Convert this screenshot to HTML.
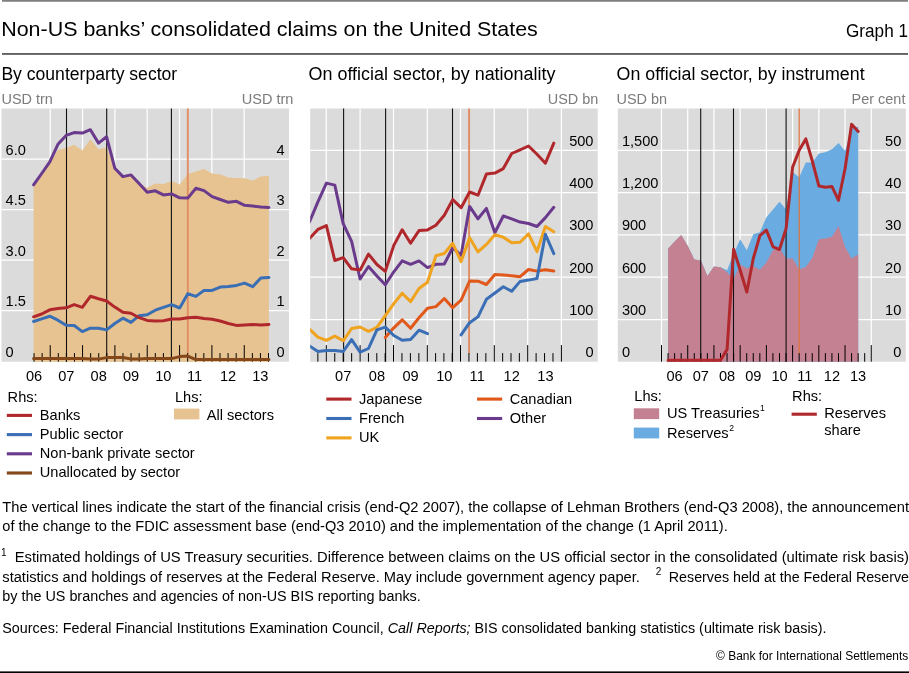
<!DOCTYPE html>
<html lang="en">
<head>
<meta charset="utf-8">
<title>Non-US banks’ consolidated claims on the United States</title>
<style>
html, body { margin: 0; padding: 0; background: #ffffff; }
body { width: 909px; height: 673px; overflow: hidden; }
svg { display: block; font-family: "Liberation Sans", Arial, sans-serif; }
</style>
</head>
<body>
<svg width="909" height="673" viewBox="0 0 909 673">
<defs><clipPath id="c2"><rect x="310.2" y="108.5" width="287.5" height="253.2"/></clipPath></defs>
<rect x="2" y="0" width="906" height="1.75" fill="#7f7f7f"/>
<rect x="2" y="53.1" width="906" height="1.7" fill="#505050"/>
<text x="1.2" y="36.0" font-size="20.4" text-anchor="start" fill="#000" textLength="536.6" lengthAdjust="spacingAndGlyphs">Non-US banks’ consolidated claims on the United States</text>
<text x="908.0" y="36.6" font-size="17.8" text-anchor="end" fill="#000" textLength="62.0" lengthAdjust="spacingAndGlyphs">Graph 1</text>
<rect x="0" y="671.4" width="909" height="1.6" fill="#000"/>
<rect x="1.5" y="108.5" width="287.5" height="253.2" fill="#dbdbdb"/>
<line x1="50.20" y1="108.50" x2="50.20" y2="361.70" stroke="#ffffff" stroke-width="1.25"/>
<line x1="82.53" y1="108.50" x2="82.53" y2="361.70" stroke="#ffffff" stroke-width="1.25"/>
<line x1="114.86" y1="108.50" x2="114.86" y2="361.70" stroke="#ffffff" stroke-width="1.25"/>
<line x1="147.19" y1="108.50" x2="147.19" y2="361.70" stroke="#ffffff" stroke-width="1.25"/>
<line x1="179.52" y1="108.50" x2="179.52" y2="361.70" stroke="#ffffff" stroke-width="1.25"/>
<line x1="211.85" y1="108.50" x2="211.85" y2="361.70" stroke="#ffffff" stroke-width="1.25"/>
<line x1="244.18" y1="108.50" x2="244.18" y2="361.70" stroke="#ffffff" stroke-width="1.25"/>
<line x1="1.50" y1="159.10" x2="289.00" y2="159.10" stroke="#ffffff" stroke-width="1.25"/>
<line x1="1.50" y1="209.60" x2="289.00" y2="209.60" stroke="#ffffff" stroke-width="1.25"/>
<line x1="1.50" y1="260.10" x2="289.00" y2="260.10" stroke="#ffffff" stroke-width="1.25"/>
<line x1="1.50" y1="310.60" x2="289.00" y2="310.60" stroke="#ffffff" stroke-width="1.25"/>
<polygon points="33.6,185.3 41.7,175.2 49.8,163.5 57.9,150.1 66.1,148.1 74.2,144.8 82.3,150.6 90.4,139.3 98.5,149.3 106.6,147.6 114.8,168.5 122.9,175.2 131.0,176.1 139.1,183.6 147.2,187.8 155.3,183.4 163.4,183.9 171.6,181.1 179.7,184.4 187.8,173.9 195.9,171.5 204.0,169.0 212.1,173.5 220.2,174.4 228.4,177.4 236.5,177.9 244.6,178.2 252.7,180.6 260.8,176.6 268.9,176.1 268.9,361.7 260.8,361.7 252.7,361.7 244.6,361.7 236.5,361.7 228.4,361.7 220.2,361.7 212.1,361.7 204.0,361.7 195.9,361.7 187.8,361.7 179.7,361.7 171.6,361.7 163.4,361.7 155.3,361.7 147.2,361.7 139.1,361.7 131.0,361.7 122.9,361.7 114.8,361.7 106.6,361.7 98.5,361.7 90.4,361.7 82.3,361.7 74.2,361.7 66.1,361.7 57.9,361.7 49.8,361.7 41.7,361.7 33.6,361.7" fill="#e6c391"/>
<line x1="66.50" y1="108.50" x2="66.50" y2="361.70" stroke="#111" stroke-width="1.1"/>
<line x1="106.70" y1="108.50" x2="106.70" y2="361.70" stroke="#111" stroke-width="1.1"/>
<line x1="171.40" y1="108.50" x2="171.40" y2="361.70" stroke="#111" stroke-width="1.1"/>
<line x1="187.80" y1="108.50" x2="187.80" y2="353.70" stroke="#e08d63" stroke-width="1.9"/>
<line x1="34.05" y1="353.10" x2="34.05" y2="361.70" stroke="#000" stroke-width="1.0"/>
<line x1="42.13" y1="353.10" x2="42.13" y2="361.70" stroke="#000" stroke-width="1.0"/>
<line x1="50.22" y1="345.10" x2="50.22" y2="361.70" stroke="#000" stroke-width="1.0"/>
<line x1="58.30" y1="353.10" x2="58.30" y2="361.70" stroke="#000" stroke-width="1.0"/>
<line x1="66.39" y1="353.10" x2="66.39" y2="361.70" stroke="#000" stroke-width="1.0"/>
<line x1="74.47" y1="353.10" x2="74.47" y2="361.70" stroke="#000" stroke-width="1.0"/>
<line x1="82.56" y1="345.10" x2="82.56" y2="361.70" stroke="#000" stroke-width="1.0"/>
<line x1="90.65" y1="353.10" x2="90.65" y2="361.70" stroke="#000" stroke-width="1.0"/>
<line x1="98.73" y1="353.10" x2="98.73" y2="361.70" stroke="#000" stroke-width="1.0"/>
<line x1="106.82" y1="353.10" x2="106.82" y2="361.70" stroke="#000" stroke-width="1.0"/>
<line x1="114.90" y1="345.10" x2="114.90" y2="361.70" stroke="#000" stroke-width="1.0"/>
<line x1="122.98" y1="353.10" x2="122.98" y2="361.70" stroke="#000" stroke-width="1.0"/>
<line x1="131.07" y1="353.10" x2="131.07" y2="361.70" stroke="#000" stroke-width="1.0"/>
<line x1="139.16" y1="353.10" x2="139.16" y2="361.70" stroke="#000" stroke-width="1.0"/>
<line x1="147.24" y1="345.10" x2="147.24" y2="361.70" stroke="#000" stroke-width="1.0"/>
<line x1="155.32" y1="353.10" x2="155.32" y2="361.70" stroke="#000" stroke-width="1.0"/>
<line x1="163.41" y1="353.10" x2="163.41" y2="361.70" stroke="#000" stroke-width="1.0"/>
<line x1="171.50" y1="353.10" x2="171.50" y2="361.70" stroke="#000" stroke-width="1.0"/>
<line x1="179.58" y1="345.10" x2="179.58" y2="361.70" stroke="#000" stroke-width="1.0"/>
<line x1="187.67" y1="353.10" x2="187.67" y2="361.70" stroke="#000" stroke-width="1.0"/>
<line x1="195.75" y1="353.10" x2="195.75" y2="361.70" stroke="#000" stroke-width="1.0"/>
<line x1="203.84" y1="353.10" x2="203.84" y2="361.70" stroke="#000" stroke-width="1.0"/>
<line x1="211.92" y1="345.10" x2="211.92" y2="361.70" stroke="#000" stroke-width="1.0"/>
<line x1="220.00" y1="353.10" x2="220.00" y2="361.70" stroke="#000" stroke-width="1.0"/>
<line x1="228.09" y1="353.10" x2="228.09" y2="361.70" stroke="#000" stroke-width="1.0"/>
<line x1="236.18" y1="353.10" x2="236.18" y2="361.70" stroke="#000" stroke-width="1.0"/>
<line x1="244.26" y1="345.10" x2="244.26" y2="361.70" stroke="#000" stroke-width="1.0"/>
<line x1="252.35" y1="353.10" x2="252.35" y2="361.70" stroke="#000" stroke-width="1.0"/>
<line x1="260.43" y1="353.10" x2="260.43" y2="361.70" stroke="#000" stroke-width="1.0"/>
<line x1="268.52" y1="353.10" x2="268.52" y2="361.70" stroke="#000" stroke-width="1.0"/>
<polyline points="33.6,358.6 41.7,358.6 49.8,358.6 57.9,358.6 66.1,358.6 74.2,358.6 82.3,358.6 90.4,359.1 98.5,359.1 106.6,357.6 114.8,357.4 122.9,357.6 131.0,359.0 139.1,359.0 147.2,358.6 155.3,358.6 163.4,358.6 171.6,358.6 179.7,356.6 187.8,356.1 195.9,359.6 204.0,359.6 212.1,359.6 220.2,359.6 228.4,359.6 236.5,359.6 244.6,359.6 252.7,359.6 260.8,359.6 268.9,359.6" fill="none" stroke="#84481a" stroke-width="3.0" stroke-linejoin="round" stroke-linecap="round"/>
<polyline points="33.6,184.9 41.7,173.5 49.8,161.8 57.9,144.3 66.1,135.4 74.2,132.6 82.3,133.1 90.4,129.7 98.5,143.1 106.6,136.8 114.8,168.2 122.9,176.6 131.0,174.9 139.1,183.6 147.2,192.3 155.3,190.8 163.4,194.9 171.6,193.9 179.7,197.8 187.8,198.1 195.9,188.3 204.0,190.6 212.1,196.6 220.2,199.5 228.4,202.3 236.5,201.3 244.6,205.3 252.7,206.0 260.8,207.0 268.9,207.5" fill="none" stroke="#6a3a8c" stroke-width="3.0" stroke-linejoin="round" stroke-linecap="round"/>
<polyline points="33.6,321.5 41.7,318.8 49.8,316.2 57.9,320.2 66.1,325.2 74.2,325.5 82.3,331.6 90.4,328.2 98.5,328.2 106.6,329.9 114.8,323.5 122.9,318.2 131.0,322.4 139.1,315.7 147.2,314.8 155.3,310.2 163.4,307.3 171.6,304.6 179.7,308.0 187.8,293.8 195.9,296.4 204.0,290.4 212.1,290.4 220.2,287.1 228.4,286.6 236.5,285.4 244.6,283.1 252.7,286.7 260.8,278.0 268.9,277.5" fill="none" stroke="#3a6eb5" stroke-width="3.0" stroke-linejoin="round" stroke-linecap="round"/>
<polyline points="33.6,316.8 41.7,314.0 49.8,309.8 57.9,308.5 66.1,307.8 74.2,304.6 82.3,307.3 90.4,296.3 98.5,298.8 106.6,301.0 114.8,307.1 122.9,312.3 131.0,313.3 139.1,317.7 147.2,320.4 155.3,320.9 163.4,320.7 171.6,319.0 179.7,319.0 187.8,317.7 195.9,317.3 204.0,318.5 212.1,319.3 220.2,321.0 228.4,323.5 236.5,325.4 244.6,324.9 252.7,324.5 260.8,325.0 268.9,324.4" fill="none" stroke="#b1282c" stroke-width="3.0" stroke-linejoin="round" stroke-linecap="round"/>
<rect x="310.2" y="108.5" width="287.5" height="253.2" fill="#dbdbdb"/>
<line x1="326.30" y1="108.50" x2="326.30" y2="361.70" stroke="#ffffff" stroke-width="1.25"/>
<line x1="360.10" y1="108.50" x2="360.10" y2="361.70" stroke="#ffffff" stroke-width="1.25"/>
<line x1="393.50" y1="108.50" x2="393.50" y2="361.70" stroke="#ffffff" stroke-width="1.25"/>
<line x1="427.30" y1="108.50" x2="427.30" y2="361.70" stroke="#ffffff" stroke-width="1.25"/>
<line x1="460.50" y1="108.50" x2="460.50" y2="361.70" stroke="#ffffff" stroke-width="1.25"/>
<line x1="494.30" y1="108.50" x2="494.30" y2="361.70" stroke="#ffffff" stroke-width="1.25"/>
<line x1="527.70" y1="108.50" x2="527.70" y2="361.70" stroke="#ffffff" stroke-width="1.25"/>
<line x1="561.40" y1="108.50" x2="561.40" y2="361.70" stroke="#ffffff" stroke-width="1.25"/>
<line x1="310.20" y1="150.30" x2="597.70" y2="150.30" stroke="#ffffff" stroke-width="1.25"/>
<line x1="310.20" y1="192.60" x2="597.70" y2="192.60" stroke="#ffffff" stroke-width="1.25"/>
<line x1="310.20" y1="234.90" x2="597.70" y2="234.90" stroke="#ffffff" stroke-width="1.25"/>
<line x1="310.20" y1="277.20" x2="597.70" y2="277.20" stroke="#ffffff" stroke-width="1.25"/>
<line x1="310.20" y1="319.50" x2="597.70" y2="319.50" stroke="#ffffff" stroke-width="1.25"/>
<line x1="343.60" y1="108.50" x2="343.60" y2="361.70" stroke="#111" stroke-width="1.1"/>
<line x1="385.60" y1="108.50" x2="385.60" y2="361.70" stroke="#111" stroke-width="1.1"/>
<line x1="452.50" y1="108.50" x2="452.50" y2="361.70" stroke="#111" stroke-width="1.1"/>
<line x1="469.10" y1="108.50" x2="469.10" y2="353.70" stroke="#e08d63" stroke-width="1.9"/>
<line x1="317.87" y1="353.10" x2="317.87" y2="361.70" stroke="#000" stroke-width="1.0"/>
<line x1="326.30" y1="345.10" x2="326.30" y2="361.70" stroke="#000" stroke-width="1.0"/>
<line x1="334.75" y1="353.10" x2="334.75" y2="361.70" stroke="#000" stroke-width="1.0"/>
<line x1="343.20" y1="353.10" x2="343.20" y2="361.70" stroke="#000" stroke-width="1.0"/>
<line x1="351.65" y1="353.10" x2="351.65" y2="361.70" stroke="#000" stroke-width="1.0"/>
<line x1="360.10" y1="345.10" x2="360.10" y2="361.70" stroke="#000" stroke-width="1.0"/>
<line x1="368.45" y1="353.10" x2="368.45" y2="361.70" stroke="#000" stroke-width="1.0"/>
<line x1="376.80" y1="353.10" x2="376.80" y2="361.70" stroke="#000" stroke-width="1.0"/>
<line x1="385.15" y1="353.10" x2="385.15" y2="361.70" stroke="#000" stroke-width="1.0"/>
<line x1="393.50" y1="345.10" x2="393.50" y2="361.70" stroke="#000" stroke-width="1.0"/>
<line x1="401.95" y1="353.10" x2="401.95" y2="361.70" stroke="#000" stroke-width="1.0"/>
<line x1="410.40" y1="353.10" x2="410.40" y2="361.70" stroke="#000" stroke-width="1.0"/>
<line x1="418.85" y1="353.10" x2="418.85" y2="361.70" stroke="#000" stroke-width="1.0"/>
<line x1="427.30" y1="345.10" x2="427.30" y2="361.70" stroke="#000" stroke-width="1.0"/>
<line x1="435.60" y1="353.10" x2="435.60" y2="361.70" stroke="#000" stroke-width="1.0"/>
<line x1="443.90" y1="353.10" x2="443.90" y2="361.70" stroke="#000" stroke-width="1.0"/>
<line x1="452.20" y1="353.10" x2="452.20" y2="361.70" stroke="#000" stroke-width="1.0"/>
<line x1="460.50" y1="345.10" x2="460.50" y2="361.70" stroke="#000" stroke-width="1.0"/>
<line x1="468.95" y1="353.10" x2="468.95" y2="361.70" stroke="#000" stroke-width="1.0"/>
<line x1="477.40" y1="353.10" x2="477.40" y2="361.70" stroke="#000" stroke-width="1.0"/>
<line x1="485.85" y1="353.10" x2="485.85" y2="361.70" stroke="#000" stroke-width="1.0"/>
<line x1="494.30" y1="345.10" x2="494.30" y2="361.70" stroke="#000" stroke-width="1.0"/>
<line x1="502.65" y1="353.10" x2="502.65" y2="361.70" stroke="#000" stroke-width="1.0"/>
<line x1="511.00" y1="353.10" x2="511.00" y2="361.70" stroke="#000" stroke-width="1.0"/>
<line x1="519.35" y1="353.10" x2="519.35" y2="361.70" stroke="#000" stroke-width="1.0"/>
<line x1="527.70" y1="345.10" x2="527.70" y2="361.70" stroke="#000" stroke-width="1.0"/>
<line x1="536.12" y1="353.10" x2="536.12" y2="361.70" stroke="#000" stroke-width="1.0"/>
<line x1="544.55" y1="353.10" x2="544.55" y2="361.70" stroke="#000" stroke-width="1.0"/>
<line x1="552.98" y1="353.10" x2="552.98" y2="361.70" stroke="#000" stroke-width="1.0"/>
<line x1="561.40" y1="345.10" x2="561.40" y2="361.70" stroke="#000" stroke-width="1.0"/>
<g clip-path="url(#c2)">
<polyline points="309.5,221.9 317.9,201.8 326.4,183.1 334.8,185.1 343.2,223.6 351.6,241.4 360.1,279.0 368.5,266.5 376.9,276.0 385.3,284.8 393.8,271.8 402.2,260.9 410.6,264.3 419.0,260.9 427.5,267.6 435.9,264.3 444.3,264.0 452.7,247.7 461.1,255.3 469.6,206.4 478.0,218.8 486.4,208.4 494.9,232.7 503.3,216.0 511.7,218.8 520.1,222.1 528.5,223.5 537.0,226.5 545.4,217.6 553.8,207.3" fill="none" stroke="#6a3a8c" stroke-width="3.0" stroke-linejoin="round" stroke-linecap="round"/>
<polyline points="385.3,337.5 393.8,327.8 402.2,319.8 410.6,328.3 419.0,317.8 427.5,308.3 435.9,306.6 444.3,298.5 452.7,307.7 461.1,300.1 469.6,281.0 478.0,281.2 486.4,284.5 494.9,274.5 503.3,275.0 511.7,275.7 520.1,276.7 528.5,269.5 537.0,271.1 545.4,269.8 553.8,271.1" fill="none" stroke="#e0581a" stroke-width="3.0" stroke-linejoin="round" stroke-linecap="round"/>
<polyline points="309.5,329.1 317.9,337.1 326.4,340.4 334.8,336.1 343.2,340.8 351.6,328.5 360.1,327.0 368.5,331.3 376.9,327.3 385.3,315.6 393.8,303.6 402.2,293.2 410.6,301.6 419.0,288.5 427.5,282.2 435.9,255.8 444.3,253.5 452.7,243.3 461.1,261.6 469.6,237.7 478.0,251.9 486.4,244.4 494.9,234.8 503.3,237.2 511.7,242.7 520.1,242.2 528.5,233.8 537.0,251.6 545.4,226.5 553.8,231.8" fill="none" stroke="#f0a31e" stroke-width="3.0" stroke-linejoin="round" stroke-linecap="round"/>
<polyline points="309.5,346.0 317.9,351.4 326.4,350.5 334.8,350.5 343.2,351.5 351.6,339.7 360.1,352.2 368.5,348.5 376.9,329.9 385.3,327.1 393.8,335.5 402.2,340.3 410.6,339.5 419.0,330.2 427.5,333.6" fill="none" stroke="#3a6eb5" stroke-width="3.0" stroke-linejoin="round" stroke-linecap="round"/>
<polyline points="461.1,334.9 469.6,322.7 478.0,316.8 486.4,299.3 494.9,293.0 503.3,286.8 511.7,291.3 520.1,281.4 528.5,280.1 537.0,278.5 545.4,234.3 553.8,253.6" fill="none" stroke="#3a6eb5" stroke-width="3.0" stroke-linejoin="round" stroke-linecap="round"/>
<polyline points="309.5,238.6 317.9,229.4 326.4,225.6 334.8,260.5 343.2,257.7 351.6,268.8 360.1,270.1 368.5,254.1 376.9,264.5 385.3,271.3 393.8,245.4 402.2,229.7 410.6,243.2 419.0,230.6 427.5,229.9 435.9,225.3 444.3,215.3 452.7,199.6 461.1,207.7 469.6,192.0 478.0,195.2 486.4,174.1 494.9,173.1 503.3,168.6 511.7,153.5 520.1,149.8 528.5,146.0 537.0,154.3 545.4,163.2 553.8,143.1" fill="none" stroke="#b1282c" stroke-width="3.0" stroke-linejoin="round" stroke-linecap="round"/>
</g>
<rect x="617.8" y="108.5" width="288.0" height="253.2" fill="#dbdbdb"/>
<line x1="661.50" y1="108.50" x2="661.50" y2="361.70" stroke="#ffffff" stroke-width="1.25"/>
<line x1="687.72" y1="108.50" x2="687.72" y2="361.70" stroke="#ffffff" stroke-width="1.25"/>
<line x1="713.94" y1="108.50" x2="713.94" y2="361.70" stroke="#ffffff" stroke-width="1.25"/>
<line x1="740.16" y1="108.50" x2="740.16" y2="361.70" stroke="#ffffff" stroke-width="1.25"/>
<line x1="766.38" y1="108.50" x2="766.38" y2="361.70" stroke="#ffffff" stroke-width="1.25"/>
<line x1="792.60" y1="108.50" x2="792.60" y2="361.70" stroke="#ffffff" stroke-width="1.25"/>
<line x1="818.82" y1="108.50" x2="818.82" y2="361.70" stroke="#ffffff" stroke-width="1.25"/>
<line x1="845.04" y1="108.50" x2="845.04" y2="361.70" stroke="#ffffff" stroke-width="1.25"/>
<line x1="871.26" y1="108.50" x2="871.26" y2="361.70" stroke="#ffffff" stroke-width="1.25"/>
<line x1="617.80" y1="150.30" x2="905.80" y2="150.30" stroke="#ffffff" stroke-width="1.25"/>
<line x1="617.80" y1="192.60" x2="905.80" y2="192.60" stroke="#ffffff" stroke-width="1.25"/>
<line x1="617.80" y1="234.90" x2="905.80" y2="234.90" stroke="#ffffff" stroke-width="1.25"/>
<line x1="617.80" y1="277.20" x2="905.80" y2="277.20" stroke="#ffffff" stroke-width="1.25"/>
<line x1="617.80" y1="319.50" x2="905.80" y2="319.50" stroke="#ffffff" stroke-width="1.25"/>
<polygon points="668.1,248.5 674.7,241.5 681.2,235.1 687.8,246.0 694.3,259.4 700.9,260.5 707.4,276.1 714.0,266.6 720.5,267.2 727.1,270.2 733.6,253.5 740.2,239.3 746.8,250.2 753.3,234.3 759.9,232.2 766.4,217.2 773.0,209.5 779.5,201.7 786.1,209.3 792.6,171.9 799.2,177.2 805.8,162.4 812.3,162.4 818.9,153.5 825.4,152.3 832.0,149.3 838.5,143.1 845.1,151.0 851.6,128.4 858.2,126.7 858.2,361.7 851.6,361.7 845.1,361.7 838.5,361.7 832.0,361.7 825.4,361.7 818.9,361.7 812.3,361.7 805.8,361.7 799.2,361.7 792.6,361.7 786.1,361.7 779.5,361.7 773.0,361.7 766.4,361.7 759.9,361.7 753.3,361.7 746.8,361.7 740.2,361.7 733.6,361.7 727.1,361.7 720.5,361.7 714.0,361.7 707.4,361.7 700.9,361.7 694.3,361.7 687.8,361.7 681.2,361.7 674.7,361.7 668.1,361.7" fill="#6aace1"/>
<polygon points="668.1,248.5 674.7,241.5 681.2,235.1 687.8,246.0 694.3,259.4 700.9,260.5 707.4,276.1 714.0,266.6 720.5,267.2 727.1,272.2 733.6,279.0 740.2,264.4 746.8,268.2 753.3,266.1 759.9,269.8 766.4,262.3 773.0,250.2 779.5,247.7 786.1,258.5 792.6,258.6 799.2,269.4 805.8,266.9 812.3,257.7 818.9,239.3 825.4,238.5 832.0,236.8 838.5,226.0 845.1,246.9 851.6,258.6 858.2,254.4 858.2,361.7 851.6,361.7 845.1,361.7 838.5,361.7 832.0,361.7 825.4,361.7 818.9,361.7 812.3,361.7 805.8,361.7 799.2,361.7 792.6,361.7 786.1,361.7 779.5,361.7 773.0,361.7 766.4,361.7 759.9,361.7 753.3,361.7 746.8,361.7 740.2,361.7 733.6,361.7 727.1,361.7 720.5,361.7 714.0,361.7 707.4,361.7 700.9,361.7 694.3,361.7 687.8,361.7 681.2,361.7 674.7,361.7 668.1,361.7" fill="#c48192"/>
<line x1="700.70" y1="108.50" x2="700.70" y2="361.70" stroke="#111" stroke-width="1.1"/>
<line x1="733.50" y1="108.50" x2="733.50" y2="361.70" stroke="#111" stroke-width="1.1"/>
<line x1="786.10" y1="108.50" x2="786.10" y2="361.70" stroke="#111" stroke-width="1.1"/>
<line x1="799.20" y1="108.50" x2="799.20" y2="353.70" stroke="#e0733c" stroke-width="1.2"/>
<line x1="661.50" y1="345.10" x2="661.50" y2="361.70" stroke="#000" stroke-width="1.0"/>
<line x1="668.05" y1="353.10" x2="668.05" y2="361.70" stroke="#000" stroke-width="1.0"/>
<line x1="674.61" y1="353.10" x2="674.61" y2="361.70" stroke="#000" stroke-width="1.0"/>
<line x1="681.16" y1="353.10" x2="681.16" y2="361.70" stroke="#000" stroke-width="1.0"/>
<line x1="687.72" y1="345.10" x2="687.72" y2="361.70" stroke="#000" stroke-width="1.0"/>
<line x1="694.27" y1="353.10" x2="694.27" y2="361.70" stroke="#000" stroke-width="1.0"/>
<line x1="700.83" y1="353.10" x2="700.83" y2="361.70" stroke="#000" stroke-width="1.0"/>
<line x1="707.38" y1="353.10" x2="707.38" y2="361.70" stroke="#000" stroke-width="1.0"/>
<line x1="713.94" y1="345.10" x2="713.94" y2="361.70" stroke="#000" stroke-width="1.0"/>
<line x1="720.50" y1="353.10" x2="720.50" y2="361.70" stroke="#000" stroke-width="1.0"/>
<line x1="727.05" y1="353.10" x2="727.05" y2="361.70" stroke="#000" stroke-width="1.0"/>
<line x1="733.61" y1="353.10" x2="733.61" y2="361.70" stroke="#000" stroke-width="1.0"/>
<line x1="740.16" y1="345.10" x2="740.16" y2="361.70" stroke="#000" stroke-width="1.0"/>
<line x1="746.72" y1="353.10" x2="746.72" y2="361.70" stroke="#000" stroke-width="1.0"/>
<line x1="753.27" y1="353.10" x2="753.27" y2="361.70" stroke="#000" stroke-width="1.0"/>
<line x1="759.83" y1="353.10" x2="759.83" y2="361.70" stroke="#000" stroke-width="1.0"/>
<line x1="766.38" y1="345.10" x2="766.38" y2="361.70" stroke="#000" stroke-width="1.0"/>
<line x1="772.93" y1="353.10" x2="772.93" y2="361.70" stroke="#000" stroke-width="1.0"/>
<line x1="779.49" y1="353.10" x2="779.49" y2="361.70" stroke="#000" stroke-width="1.0"/>
<line x1="786.04" y1="353.10" x2="786.04" y2="361.70" stroke="#000" stroke-width="1.0"/>
<line x1="792.60" y1="345.10" x2="792.60" y2="361.70" stroke="#000" stroke-width="1.0"/>
<line x1="799.15" y1="353.10" x2="799.15" y2="361.70" stroke="#000" stroke-width="1.0"/>
<line x1="805.71" y1="353.10" x2="805.71" y2="361.70" stroke="#000" stroke-width="1.0"/>
<line x1="812.26" y1="353.10" x2="812.26" y2="361.70" stroke="#000" stroke-width="1.0"/>
<line x1="818.82" y1="345.10" x2="818.82" y2="361.70" stroke="#000" stroke-width="1.0"/>
<line x1="825.38" y1="353.10" x2="825.38" y2="361.70" stroke="#000" stroke-width="1.0"/>
<line x1="831.93" y1="353.10" x2="831.93" y2="361.70" stroke="#000" stroke-width="1.0"/>
<line x1="838.49" y1="353.10" x2="838.49" y2="361.70" stroke="#000" stroke-width="1.0"/>
<line x1="845.04" y1="345.10" x2="845.04" y2="361.70" stroke="#000" stroke-width="1.0"/>
<line x1="851.60" y1="353.10" x2="851.60" y2="361.70" stroke="#000" stroke-width="1.0"/>
<line x1="858.15" y1="353.10" x2="858.15" y2="361.70" stroke="#000" stroke-width="1.0"/>
<line x1="864.70" y1="353.10" x2="864.70" y2="361.70" stroke="#000" stroke-width="1.0"/>
<line x1="871.26" y1="345.10" x2="871.26" y2="361.70" stroke="#000" stroke-width="1.0"/>
<polyline points="668.1,360.3 674.7,360.3 681.2,360.3 687.8,360.3 694.3,360.3 700.9,360.3 707.4,360.3 714.0,360.3 720.5,360.3 727.1,349.4 733.6,249.3 740.2,270.2 746.8,292.0 753.3,258.5 759.9,235.6 766.4,230.1 773.0,246.8 779.5,249.5 786.1,228.5 792.6,167.2 799.2,150.2 805.8,138.9 812.3,161.0 818.9,186.1 825.4,187.3 832.0,186.6 838.5,200.3 845.1,168.5 851.6,124.2 858.2,131.4" fill="none" stroke="#b1282c" stroke-width="3.0" stroke-linejoin="round" stroke-linecap="round"/>
<text x="1.4" y="79.8" font-size="17.6" text-anchor="start" fill="#000" textLength="175.8" lengthAdjust="spacingAndGlyphs">By counterparty sector</text>
<text x="308.6" y="79.8" font-size="17.6" text-anchor="start" fill="#000" textLength="246.8" lengthAdjust="spacingAndGlyphs">On official sector, by nationality</text>
<text x="616.6" y="79.8" font-size="17.6" text-anchor="start" fill="#000" textLength="248.0" lengthAdjust="spacingAndGlyphs">On official sector, by instrument</text>
<text x="1.5" y="103.7" font-size="14" text-anchor="start" fill="#7b7b7b" textLength="51.4" lengthAdjust="spacingAndGlyphs">USD trn</text>
<text x="293.4" y="103.7" font-size="14" text-anchor="end" fill="#7b7b7b" textLength="51.6" lengthAdjust="spacingAndGlyphs">USD trn</text>
<text x="598.4" y="103.7" font-size="14" text-anchor="end" fill="#7b7b7b" textLength="50.6" lengthAdjust="spacingAndGlyphs">USD bn</text>
<text x="616.5" y="103.7" font-size="14" text-anchor="start" fill="#7b7b7b" textLength="50.6" lengthAdjust="spacingAndGlyphs">USD bn</text>
<text x="905.4" y="103.7" font-size="14" text-anchor="end" fill="#7b7b7b" textLength="53.8" lengthAdjust="spacingAndGlyphs">Per cent</text>
<text x="5.6" y="154.7" font-size="14.6" text-anchor="start" fill="#000">6.0</text>
<text x="5.6" y="205.2" font-size="14.6" text-anchor="start" fill="#000">4.5</text>
<text x="5.6" y="255.7" font-size="14.6" text-anchor="start" fill="#000">3.0</text>
<text x="5.6" y="306.2" font-size="14.6" text-anchor="start" fill="#000">1.5</text>
<text x="5.6" y="356.7" font-size="14.6" text-anchor="start" fill="#000">0</text>
<text x="284.5" y="154.7" font-size="14.6" text-anchor="end" fill="#000">4</text>
<text x="284.5" y="205.2" font-size="14.6" text-anchor="end" fill="#000">3</text>
<text x="284.5" y="255.7" font-size="14.6" text-anchor="end" fill="#000">2</text>
<text x="284.5" y="306.2" font-size="14.6" text-anchor="end" fill="#000">1</text>
<text x="284.5" y="356.7" font-size="14.6" text-anchor="end" fill="#000">0</text>
<text x="593.5" y="145.7" font-size="14.6" text-anchor="end" fill="#000">500</text>
<text x="593.5" y="188.0" font-size="14.6" text-anchor="end" fill="#000">400</text>
<text x="593.5" y="230.3" font-size="14.6" text-anchor="end" fill="#000">300</text>
<text x="593.5" y="272.6" font-size="14.6" text-anchor="end" fill="#000">200</text>
<text x="593.5" y="314.9" font-size="14.6" text-anchor="end" fill="#000">100</text>
<text x="593.5" y="357.2" font-size="14.6" text-anchor="end" fill="#000">0</text>
<text x="621.9" y="145.7" font-size="14.6" text-anchor="start" fill="#000">1,500</text>
<text x="621.9" y="188.0" font-size="14.6" text-anchor="start" fill="#000">1,200</text>
<text x="621.9" y="230.3" font-size="14.6" text-anchor="start" fill="#000">900</text>
<text x="621.9" y="272.6" font-size="14.6" text-anchor="start" fill="#000">600</text>
<text x="621.9" y="314.9" font-size="14.6" text-anchor="start" fill="#000">300</text>
<text x="621.9" y="357.2" font-size="14.6" text-anchor="start" fill="#000">0</text>
<text x="901.3" y="145.7" font-size="14.6" text-anchor="end" fill="#000">50</text>
<text x="901.3" y="188.0" font-size="14.6" text-anchor="end" fill="#000">40</text>
<text x="901.3" y="230.3" font-size="14.6" text-anchor="end" fill="#000">30</text>
<text x="901.3" y="272.6" font-size="14.6" text-anchor="end" fill="#000">20</text>
<text x="901.3" y="314.9" font-size="14.6" text-anchor="end" fill="#000">10</text>
<text x="901.3" y="357.2" font-size="14.6" text-anchor="end" fill="#000">0</text>
<text x="34.0" y="380.6" font-size="14.6" text-anchor="middle" fill="#000">06</text>
<text x="66.3" y="380.6" font-size="14.6" text-anchor="middle" fill="#000">07</text>
<text x="98.7" y="380.6" font-size="14.6" text-anchor="middle" fill="#000">08</text>
<text x="131.0" y="380.6" font-size="14.6" text-anchor="middle" fill="#000">09</text>
<text x="163.3" y="380.6" font-size="14.6" text-anchor="middle" fill="#000">10</text>
<text x="194.6" y="380.6" font-size="14.6" text-anchor="middle" fill="#000">11</text>
<text x="228.0" y="380.6" font-size="14.6" text-anchor="middle" fill="#000">12</text>
<text x="260.3" y="380.6" font-size="14.6" text-anchor="middle" fill="#000">13</text>
<text x="343.2" y="380.6" font-size="14.6" text-anchor="middle" fill="#000">07</text>
<text x="376.9" y="380.6" font-size="14.6" text-anchor="middle" fill="#000">08</text>
<text x="410.6" y="380.6" font-size="14.6" text-anchor="middle" fill="#000">09</text>
<text x="444.3" y="380.6" font-size="14.6" text-anchor="middle" fill="#000">10</text>
<text x="477.2" y="380.6" font-size="14.6" text-anchor="middle" fill="#000">11</text>
<text x="511.7" y="380.6" font-size="14.6" text-anchor="middle" fill="#000">12</text>
<text x="545.4" y="380.6" font-size="14.6" text-anchor="middle" fill="#000">13</text>
<text x="674.6" y="380.6" font-size="14.6" text-anchor="middle" fill="#000">06</text>
<text x="700.8" y="380.6" font-size="14.6" text-anchor="middle" fill="#000">07</text>
<text x="727.0" y="380.6" font-size="14.6" text-anchor="middle" fill="#000">08</text>
<text x="753.3" y="380.6" font-size="14.6" text-anchor="middle" fill="#000">09</text>
<text x="779.5" y="380.6" font-size="14.6" text-anchor="middle" fill="#000">10</text>
<text x="804.9" y="380.6" font-size="14.6" text-anchor="middle" fill="#000">11</text>
<text x="831.9" y="380.6" font-size="14.6" text-anchor="middle" fill="#000">12</text>
<text x="858.1" y="380.6" font-size="14.6" text-anchor="middle" fill="#000">13</text>
<text x="7.6" y="402.0" font-size="14.6" text-anchor="start" fill="#000">Rhs:</text>
<rect x="6.8" y="413.85" width="25.2" height="3.1" fill="#b1282c"/>
<text x="39.8" y="419.6" font-size="14.6" text-anchor="start" fill="#000">Banks</text>
<rect x="6.8" y="433.05" width="25.2" height="3.1" fill="#3a6eb5"/>
<text x="39.8" y="438.8" font-size="14.6" text-anchor="start" fill="#000">Public sector</text>
<rect x="6.8" y="452.25" width="25.2" height="3.1" fill="#6a3a8c"/>
<text x="39.8" y="458.0" font-size="14.6" text-anchor="start" fill="#000">Non-bank private sector</text>
<rect x="6.8" y="471.45" width="25.2" height="3.1" fill="#84481a"/>
<text x="39.8" y="477.2" font-size="14.6" text-anchor="start" fill="#000">Unallocated by sector</text>
<text x="175.0" y="402.0" font-size="14.6" text-anchor="start" fill="#000">Lhs:</text>
<rect x="174" y="408.6" width="25.4" height="10.8" fill="#e6c391"/>
<text x="206.7" y="419.7" font-size="14.6" text-anchor="start" fill="#000">All sectors</text>
<rect x="326.3" y="397.55" width="25.2" height="3.1" fill="#b1282c"/>
<text x="359.0" y="403.6" font-size="14.6" text-anchor="start" fill="#000">Japanese</text>
<rect x="326.3" y="416.95" width="25.2" height="3.1" fill="#3a6eb5"/>
<text x="359.0" y="423.0" font-size="14.6" text-anchor="start" fill="#000">French</text>
<rect x="326.3" y="436.35" width="25.2" height="3.1" fill="#f0a31e"/>
<text x="359.0" y="442.4" font-size="14.6" text-anchor="start" fill="#000">UK</text>
<rect x="477" y="397.55" width="25.2" height="3.1" fill="#e0581a"/>
<text x="509.7" y="403.6" font-size="14.6" text-anchor="start" fill="#000">Canadian</text>
<rect x="477" y="416.95" width="25.2" height="3.1" fill="#6a3a8c"/>
<text x="509.7" y="423.0" font-size="14.6" text-anchor="start" fill="#000">Other</text>
<text x="634.3" y="400.7" font-size="14.6" text-anchor="start" fill="#000">Lhs:</text>
<rect x="633.8" y="408.3" width="25.4" height="10.8" fill="#c48192"/>
<text x="667.0" y="418.3" font-size="14.6" text-anchor="start" fill="#000">US Treasuries<tspan dx="0.6" dy="-7.2" font-size="8.6">1</tspan></text>
<rect x="633.8" y="427.6" width="25.4" height="10.8" fill="#6aace1"/>
<text x="667.0" y="437.9" font-size="14.6" text-anchor="start" fill="#000">Reserves<tspan dx="0.6" dy="-6.8" font-size="8.6">2</tspan></text>
<text x="792.1" y="400.7" font-size="14.6" text-anchor="start" fill="#000">Rhs:</text>
<rect x="791.6" y="412.65" width="25.2" height="3.1" fill="#b1282c"/>
<text x="824.3" y="418.3" font-size="14.6" text-anchor="start" fill="#000">Reserves</text>
<text x="824.3" y="435.3" font-size="14.6" text-anchor="start" fill="#000">share</text>
<text x="2.3" y="511.5" font-size="14" text-anchor="start" fill="#000" textLength="906.7" lengthAdjust="spacingAndGlyphs">The vertical lines indicate the start of the financial crisis (end-Q2 2007), the collapse of Lehman Brothers (end-Q3 2008), the announcement</text>
<text x="2.3" y="530.9" font-size="14" text-anchor="start" fill="#000" textLength="725.4" lengthAdjust="spacingAndGlyphs">of the change to the FDIC assessment base (end-Q3 2010) and the implementation of the change (1 April 2011).</text>
<text x="1.0" y="555.8" font-size="10" text-anchor="start" fill="#000">1</text>
<text x="14.7" y="562.4" font-size="14" text-anchor="start" fill="#000" textLength="894.3" lengthAdjust="spacingAndGlyphs">Estimated holdings of US Treasury securities. Difference between claims on the US official sector in the consolidated (ultimate risk basis)</text>
<text x="2.3" y="581.9" font-size="14" text-anchor="start" fill="#000" textLength="637.6" lengthAdjust="spacingAndGlyphs">statistics and holdings of reserves at the Federal Reserve. May include government agency paper.</text>
<text x="655.7" y="575.3" font-size="10" text-anchor="start" fill="#000">2</text>
<text x="668.8" y="581.9" font-size="14" text-anchor="start" fill="#000" textLength="240.2" lengthAdjust="spacingAndGlyphs">Reserves held at the Federal Reserve</text>
<text x="2.3" y="601.4" font-size="14" text-anchor="start" fill="#000" textLength="418.5" lengthAdjust="spacingAndGlyphs">by the US branches and agencies of non-US BIS reporting banks.</text>
<text x="2.3" y="633.1" font-size="14" text-anchor="start" fill="#000" textLength="824.2" lengthAdjust="spacingAndGlyphs">Sources: Federal Financial Institutions Examination Council, <tspan font-style="italic">Call Reports;</tspan> BIS consolidated banking statistics (ultimate risk basis).</text>
<text x="908.3" y="660.1" font-size="12.5" text-anchor="end" fill="#000" textLength="192.2" lengthAdjust="spacingAndGlyphs">© Bank for International Settlements</text>
</svg>
</body>
</html>
